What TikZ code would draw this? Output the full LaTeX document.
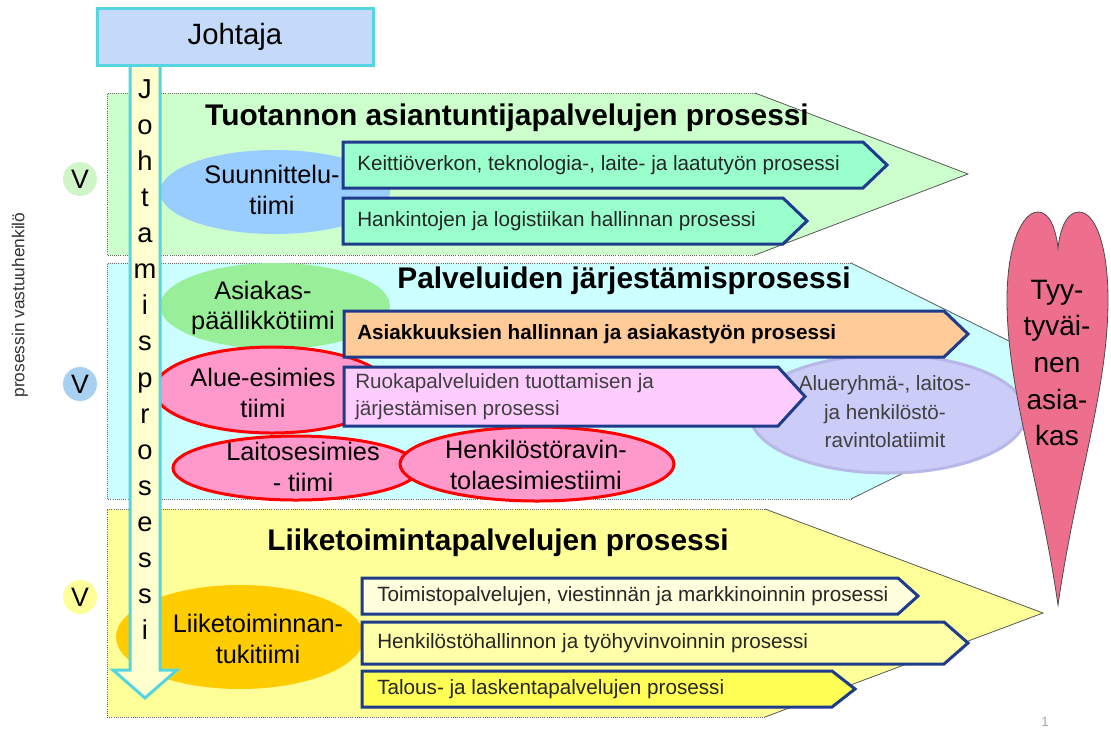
\documentclass[tikz,border=0pt]{standalone}
\usepackage{fontspec}
\setmainfont{Liberation Sans}
\usetikzlibrary{shapes.geometric}
\definecolor{bandG}{HTML}{CCFFCC}
\definecolor{bandC}{HTML}{CCFFFF}
\definecolor{bandY}{HTML}{FFFF99}
\definecolor{navyB}{HTML}{1F3C8C}
\definecolor{mintA}{HTML}{99FFCC}
\definecolor{skyE}{HTML}{99CCFF}
\definecolor{greenE}{HTML}{99EE99}
\definecolor{pinkE}{HTML}{FF99CC}
\definecolor{orangeA}{HTML}{FFCC99}
\definecolor{lilacA}{HTML}{FFCCFF}
\definecolor{lavE}{HTML}{CCCCF8}
\definecolor{lavB}{HTML}{B8B8E8}
\definecolor{goldE}{HTML}{FFCC00}
\definecolor{yA}{HTML}{FFFFDD}
\definecolor{yB}{HTML}{FFFFAA}
\definecolor{yC}{HTML}{FFFF55}
\definecolor{heartC}{HTML}{EE6E8E}
\definecolor{cyanB}{HTML}{55D5E0}
\definecolor{johF}{HTML}{C4DAF8}
\definecolor{shaftF}{HTML}{FFFFD0}
\definecolor{vG}{HTML}{D0F5C8}
\definecolor{vB}{HTML}{A8D0F0}
\definecolor{vY}{HTML}{FFFF99}
\newcommand\fSub{\fontsize{15.5}{20.25}\selectfont}
\newcommand\fTeam{\fontsize{19}{23}\selectfont}
\newcommand\fHead{\fontsize{22.4}{26}\selectfont\bfseries}
\newcommand\fVert{\fontsize{20.5}{24}\selectfont}
\newcommand\fHeart{\fontsize{21}{27.5}\selectfont}
\newcommand\fAlue{\fontsize{15.5}{21.4}\selectfont}
\begin{document}
\begin{tikzpicture}[x=0.75pt,y=-0.75pt,
  banddot/.style={draw=black!60, densely dotted, line width=0.6pt},
  bandedge/.style={draw=black!65, line width=0.6pt},
  subbox/.style={draw=navyB, line width=2.25pt, line join=miter},
  subtext/.style={anchor=west, inner sep=0pt, font=\fSub, text=black!85},
  teamtext/.style={align=center, inner sep=0pt, font=\fTeam},
  headtext/.style={inner sep=0pt, font=\fHead},
  redring/.style={draw=red, line width=2.25pt},
  vcirc/.style={circle, inner sep=0pt, minimum size=34*0.75pt, font=\fontsize{20}{22}\selectfont}]
\useasboundingbox (0,0) rectangle (1111,733);
\fill[white] (0,0) rectangle (1111,733);
% bands
\fill[bandG] (107,93) -- (755,93) -- (968,174) -- (755,255) -- (107,255) -- cycle;
\draw[banddot] (755,93) -- (107,93) -- (107,255) -- (755,255);
\draw[bandedge] (755,93) -- (968,174) -- (755,255);
\fill[bandC] (107,263) -- (851,263) -- (1090,381) -- (851,499) -- (107,499) -- cycle;
\draw[banddot] (851,263) -- (107,263) -- (107,499) -- (851,499);
\draw[bandedge] (851,263) -- (1090,381) -- (851,499);
\fill[bandY] (107,509) -- (765,509) -- (1043,613) -- (765,717) -- (107,717) -- cycle;
\draw[banddot] (765,509) -- (107,509) -- (107,717) -- (765,717);
\draw[bandedge] (765,509) -- (1043,613) -- (765,717);
% V circles and side label
\node[vcirc, fill=vG] (v1) at (80,179) {V};
\node[vcirc, fill=vB] (v2) at (80,384) {V};
\node[vcirc, fill=vY] (v3) at (80,597) {V};
\node[rotate=90, inner sep=0pt, font=\fontsize{13}{15}\selectfont, text=black!80] (vastuu) at (20,305) {prosessin vastuuhenkilö};
% team ellipses (background)
\fill[skyE] (275,192) ellipse [x radius=115, y radius=42];
\fill[greenE] (275,306) ellipse [x radius=115, y radius=43];
\filldraw[fill=pinkE, redring] (272,390) ellipse [x radius=118, y radius=43];
\filldraw[fill=pinkE, redring] (296,468) ellipse [x radius=123, y radius=32];
\filldraw[fill=pinkE, redring] (537,464) ellipse [x radius=137, y radius=37];
\filldraw[fill=lavE, draw=lavB, line width=2.25pt] (888,414) ellipse [x radius=138, y radius=59];
\fill[goldE] (240,637) ellipse [x radius=124, y radius=52];
% sub-process arrows
\filldraw[subbox, fill=mintA] (343,142) -- (863,142) -- (887,165) -- (863,188) -- (343,188) -- cycle;
\filldraw[subbox, fill=mintA] (343,198) -- (783,198) -- (807,221) -- (783,244) -- (343,244) -- cycle;
\filldraw[subbox, fill=orangeA] (344,311) -- (944,311) -- (968,334) -- (944,357) -- (344,357) -- cycle;
\filldraw[subbox, fill=lilacA] (344,367) -- (778,367) -- (805,396.5) -- (778,426) -- (344,426) -- cycle;
\filldraw[subbox, fill=yA] (362,578) -- (898,578) -- (918,596) -- (898,614) -- (362,614) -- cycle;
\filldraw[subbox, fill=yB] (362,622) -- (944,622) -- (968,643) -- (944,664) -- (362,664) -- cycle;
\filldraw[subbox, fill=yC] (362,671) -- (832,671) -- (855,689) -- (832,707) -- (362,707) -- cycle;
% sub-process texts
\node[subtext] (keitto) at (357,165) {Keittiöverkon, teknologia-, laite- ja laatutyön prosessi};
\node[subtext] (hankinta) at (357,221) {Hankintojen ja logistiikan hallinnan prosessi};
\node[subtext, font=\fSub\bfseries, text=black] (asiakkuus) at (357,334) {Asiakkuuksien hallinnan ja asiakastyön prosessi};
\node[subtext, align=left, text=black!75] (ruoka) at (355,396.5) {Ruokapalveluiden tuottamisen ja\\järjestämisen prosessi};
\node[subtext] (toimisto) at (377,596) {Toimistopalvelujen, viestinnän ja markkinoinnin prosessi};
\node[subtext] (henkhall) at (377,643) {Henkilöstöhallinnon ja työhyvinvoinnin prosessi};
\node[subtext] (talous) at (377,689) {Talous- ja laskentapalvelujen prosessi};
% headings
\node[headtext] (h1) at (507,118) {Tuotannon asiantuntijapalvelujen prosessi};
\node[headtext] (h2) at (624,281) {Palveluiden järjestämisprosessi};
\node[headtext] (h3) at (498,543) {Liiketoimintapalvelujen prosessi};
% team texts
\node[teamtext] (suun) at (272,190) {Suunnittelu-\\tiimi};
\node[teamtext] (asiakas) at (263,308) {Asiakas-\\päällikkötiimi};
\node[teamtext] (alue) at (263,393) {Alue-esimies\\tiimi};
\node[teamtext] (laitos) at (303,467) {Laitosesimies\\- tiimi};
\node[teamtext] (henkrav) at (536,465) {Henkilöstöravin-\\tolaesimiestiimi};
\node[teamtext] (liike) at (258,639) {Liiketoiminnan-\\tukitiimi};
\node[align=center, inner sep=0pt, font=\fAlue, text=black!75] (alueryhma) at (885,412) {Alueryhmä-, laitos-\\ja henkilöstö-\\ravintolatiimit};
% vertical arrow and Johtaja
\draw[cyanB, line width=2.25pt, fill=shaftF, line join=miter] (130,60) -- (130,670) -- (113,670) -- (145,698) -- (177,670) -- (160,670) -- (160,60) -- cycle;
\foreach \l [count=\i from 0] in {J,o,h,t,a,m,i,s,p,r,o,s,e,s,s,i}
  \node[anchor=base, inner sep=0pt, font=\fVert] (jp\i) at (145,98+36.13*\i) {\l};
\node[draw=cyanB, line width=2.25pt, fill=johF, minimum width=276*0.75pt, minimum height=57*0.75pt, inner sep=0pt, font=\fontsize{22}{24}\selectfont] (johtaja) at (235,37) {Johtaja};
% heart
\filldraw[fill=heartC, draw=black!70, line width=0.6pt] (1058,605) .. controls (1040,480) and (1007,390) .. (1007,300) .. controls (1007,245) and (1022,212) .. (1038,212) .. controls (1050,212) and (1056,230) .. (1058,248) .. controls (1060,230) and (1066,212) .. (1079,212) .. controls (1095,212) and (1108,245) .. (1108,300) .. controls (1108,390) and (1076,480) .. (1058,605) -- cycle;
\node[align=center, inner sep=0pt, font=\fHeart] (tyyt) at (1057,363) {Tyy-\\tyväi-\\nen\\asia-\\kas};
\node[inner sep=0pt, font=\fontsize{10}{12}\selectfont, text=black!35] (pagenum) at (1045,722) {1};
\end{tikzpicture}
\end{document}
